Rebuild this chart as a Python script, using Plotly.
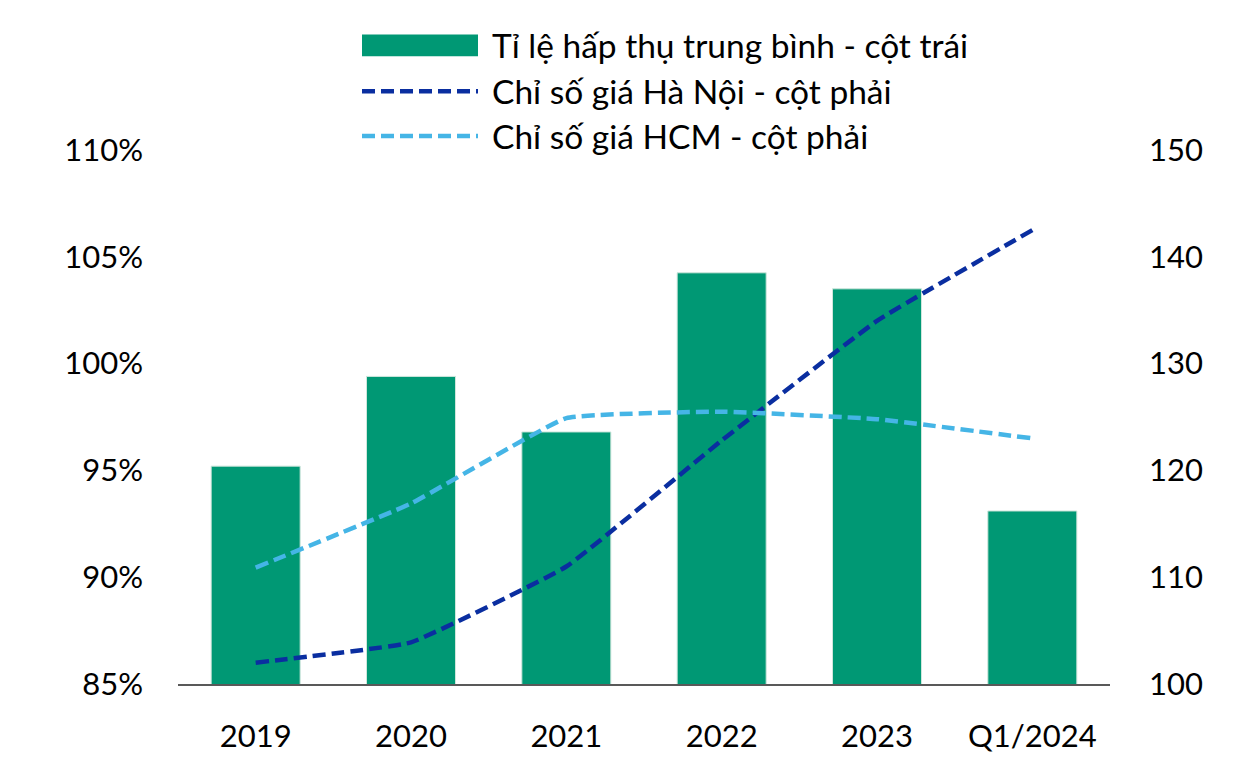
import plotly.graph_objects as go

categories = ["2019", "2020", "2021", "2022", "2023", "Q1/2024"]
absorption = [0.952, 0.994, 0.968, 1.0425, 1.035, 0.931]
hanoi_index = [102.0, 103.9, 111.0, 122.8, 134.0, 142.5]
hcm_index = [110.9, 116.9, 124.9, 125.5, 124.8, 123.0]
series_names = [
    "Tỉ lệ hấp thụ trung bình - cột trái",
    "Chỉ số giá Hà Nội - cột phải",
    "Chỉ số giá HCM - cột phải",
]

GREEN = "#009874"
DARK = "#0a2ea0"
LIGHT = "#45b5e6"
FONT = "Lato"

fig = go.Figure()
fig.add_trace(go.Bar(
    x=categories, y=absorption, name=series_names[0],
    marker=dict(color=GREEN, line=dict(color="#cfe6dc", width=1)),
    yaxis="y", showlegend=False,
))
fig.add_trace(go.Scatter(
    x=categories, y=hanoi_index, name=series_names[1], mode="lines",
    line=dict(color=DARK, width=4.5, dash="13px,6px", shape="spline", smoothing=0.3),
    yaxis="y2", showlegend=False,
))
fig.add_trace(go.Scatter(
    x=categories, y=hcm_index, name=series_names[2], mode="lines",
    line=dict(color=LIGHT, width=4.5, dash="13px,6px", shape="spline", smoothing=0.3),
    yaxis="y2", showlegend=False,
))

# Page body has an 8px margin; compensate so the plot lands where the reference has it
OFF = 8
W, H = 1240 - OFF, 766 - OFF
L, R, T, B = 178 - OFF, 130, 150 - OFF, 80
pw, ph = W - L - R, H - T - B

def px(x):
    return (x - OFF - L) / pw

def py(y):
    return (H - B - (y - OFF)) / ph

shapes = []
annotations = []
rows = [45, 91, 136]
shapes.append(dict(type="rect", xref="paper", yref="paper",
                   x0=px(362), x1=px(478), y0=py(56), y1=py(34),
                   fillcolor=GREEN, line=dict(width=0)))
shapes.append(dict(type="line", xref="paper", yref="paper",
                   x0=px(362), x1=px(478), y0=py(rows[1]), y1=py(rows[1]),
                   line=dict(color=DARK, width=4.5, dash="13px,6px")))
shapes.append(dict(type="line", xref="paper", yref="paper",
                   x0=px(362), x1=px(478), y0=py(rows[2]), y1=py(rows[2]),
                   line=dict(color=LIGHT, width=4.5, dash="13px,6px")))
for name, ry in zip(series_names, rows):
    annotations.append(dict(text=name, xref="paper", yref="paper",
                            x=px(490), y=py(ry), xanchor="left", yanchor="middle",
                            showarrow=False, font=dict(family=FONT, size=33.5, color="#000000")))

fig.update_layout(
    width=W, height=H,
    margin=dict(l=L, r=R, t=T, b=B),
    paper_bgcolor="white", plot_bgcolor="white",
    bargap=0.427,
    font=dict(family=FONT, size=31, color="#000000"),
    xaxis=dict(
        type="category", range=[-0.5, 5.5],
        showgrid=False, showline=True, linecolor="#595959", linewidth=1.5,
        ticks="", ticklabelstandoff=24,
        tickfont=dict(family=FONT, size=31),
    ),
    yaxis=dict(
        range=[0.85, 1.10], dtick=0.05, tick0=0.85, tickformat=".0%",
        showgrid=False, zeroline=False, showline=False, ticks="",
        ticklabelstandoff=34, tickfont=dict(family=FONT, size=31),
    ),
    yaxis2=dict(
        range=[100, 150], dtick=10, tick0=100, overlaying="y", side="right",
        showgrid=False, zeroline=False, showline=False, ticks="",
        ticklabelstandoff=38, tickfont=dict(family=FONT, size=31),
    ),
    shapes=shapes,
    annotations=annotations,
)

fig.write_html("out.html")
